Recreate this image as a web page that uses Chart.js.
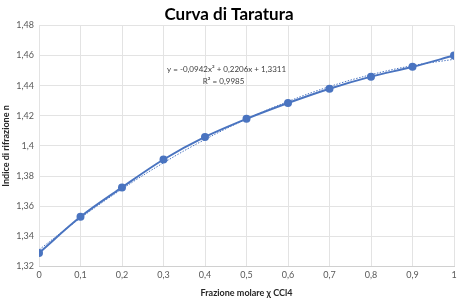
<!DOCTYPE html>
<html><head><meta charset="utf-8">
<script src="https://cdn.jsdelivr.net/npm/chart.js@4/dist/chart.umd.min.js"></script>
<style>html,body{margin:0;padding:0;background:#fff}#wrap{width:459px;height:298px}</style>
</head><body><div id="wrap"><canvas id="c" width="459" height="298"></canvas></div>
<script>
const xValues = [0, 0.1, 0.2, 0.3, 0.4, 0.5, 0.6, 0.7, 0.8, 0.9, 1];
const nValues = [1.329, 1.353, 1.3725, 1.391, 1.406, 1.418, 1.4285, 1.438, 1.446, 1.4525, 1.460];
// polynomial trendline values as displayed (y = -0,0942x² + 0,2206x + 1,3311)
const trendValues = [1.3311, 1.3522, 1.3714, 1.3888, 1.4043, 1.4178, 1.4295, 1.4394, 1.4473, 1.4533, 1.4575];
const titleText = 'Curva di Taratura';
const xTitle = 'Frazione molare χ CCl4';
const yTitle = 'Indice di rifrazione n';
const eqLines = ['y = -0,0942x² + 0,2206x + 1,3311', 'R² = 0,9985'];

const FONT = 'Lato, "Open Sans", sans-serif';
const blue = '#4a74c0';
const fmt = v => Number(v.toFixed(2)).toString().replace('.', ',');

const eqPlugin = {
  id: 'eq',
  afterDatasetsDraw(chart) {
    const {ctx, scales} = chart;
    const x = scales.x.getPixelForValue(0.452);
    const y1 = scales.y.getPixelForValue(1.451);
    const y2 = scales.y.getPixelForValue(1.4428);
    ctx.save();
    ctx.fillStyle = '#404040';
    ctx.font = '8px ' + FONT;
    ctx.textAlign = 'center';
    ctx.textBaseline = 'middle';
    ctx.fillText(eqLines[0], x, y1);
    ctx.fillText(eqLines[1], x - 3, y2);
    ctx.restore();
  }
};

new Chart(document.getElementById('c'), {
  type: 'scatter',
  data: {
    datasets: [
      {
        data: xValues.map((x, i) => ({x, y: nValues[i]})),
        showLine: true,
        borderColor: blue,
        backgroundColor: blue,
        borderWidth: 2,
        pointRadius: 3,
        pointHoverRadius: 3,
        cubicInterpolationMode: 'monotone',
        order: 1
      },
      {
        data: xValues.map((x, i) => ({x, y: trendValues[i]})),
        showLine: true,
        borderColor: blue,
        borderWidth: 1,
        borderDash: [1.5, 1.5],
        pointRadius: 0,
        tension: 0.4,
        order: 0
      }
    ]
  },
  options: {
    responsive: false,
    animation: false,
    devicePixelRatio: 1,
    layout: {padding: {left: 1, right: 2, top: 0, bottom: 0}},
    plugins: {
      legend: {display: false},
      tooltip: {enabled: false},
      title: {
        display: true,
        text: titleText,
        color: '#000',
        font: {family: FONT, size: 17, weight: 'bold'},
        padding: {top: 4, bottom: 1}
      }
    },
    scales: {
      x: {
        type: 'linear',
        min: 0, max: 1,
        afterFit(s) { s.height = 31.5; s.paddingRight = 0; s.paddingLeft = 0; },
        ticks: {stepSize: 0.1, callback: fmt, color: '#595959', font: {family: FONT, size: 9}, maxRotation: 0, padding: 3.5},
        grid: {color: '#e3e3e3', drawTicks: false},
        border: {color: '#d0d0d0'},
        title: {display: true, text: xTitle, color: '#262626', font: {family: FONT, size: 9, weight: 'bold'}, padding: {top: 2, bottom: 0}}
      },
      y: {
        min: 1.32, max: 1.48,
        afterFit(s) { s.width = 38; },
        ticks: {stepSize: 0.02, callback: fmt, color: '#595959', font: {family: FONT, size: 9}, padding: 5},
        grid: {color: '#e3e3e3', drawTicks: false},
        border: {display: false},
        title: {display: true, text: yTitle, color: '#262626', font: {family: FONT, size: 9, weight: 'bold'}, padding: {top: 0, bottom: 2}}
      }
    }
  },
  plugins: [eqPlugin]
});
</script>
</body></html>
